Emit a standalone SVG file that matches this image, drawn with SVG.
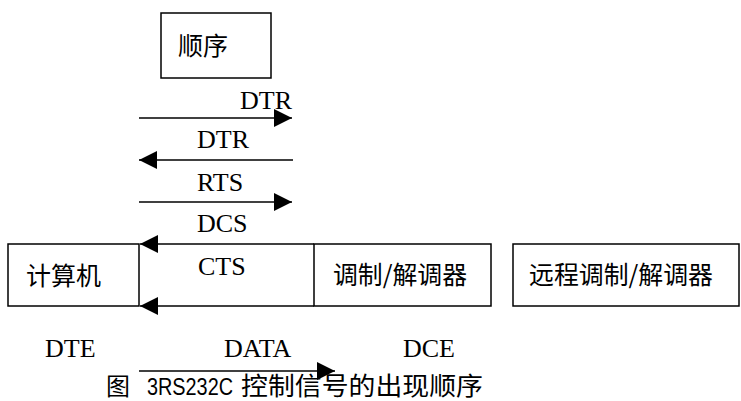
<svg xmlns="http://www.w3.org/2000/svg" width="741" height="401" viewBox="0 0 741 401">
<style>
.box{fill:#fff;stroke:#000;stroke-width:1.5}
.ln{fill:none;stroke:#000;stroke-width:1.5;marker-end:url(#ah)}
.cj{font-family:"Noto Sans CJK SC","Noto Sans",sans-serif;font-size:25px;fill:#000}
.lt{font-family:"Liberation Serif",serif;font-size:26px;fill:#000}
</style>
<defs>
<marker id="ah" markerUnits="userSpaceOnUse" viewBox="0 0 18 18" refX="18" refY="9" markerWidth="18" markerHeight="18" orient="auto">
<path d="M0,0 L18,9 L0,18 z" fill="#000"/>
</marker>
</defs>
<rect width="741" height="401" fill="#fff"/>
<g id="node-order">
<rect class="box" x="161" y="13" width="110" height="65"/>
<text class="cj" x="178" y="55">顺序</text>
</g>
<g id="node-computer">
<rect class="box" x="8" y="244" width="131" height="62"/>
<text class="cj" x="26" y="285">计算机</text>
</g>
<g id="node-modem">
<rect class="box" x="314" y="244" width="177" height="62"/>
<text class="cj" x="333" y="284" textLength="134" lengthAdjust="spacingAndGlyphs">调制/解调器</text>
</g>
<g id="node-remote">
<rect class="box" x="513" y="244" width="226" height="62"/>
<text class="cj" x="529" y="284" textLength="184" lengthAdjust="spacingAndGlyphs">远程调制/解调器</text>
</g>
<g id="connectors">
<line class="ln" x1="139" y1="118" x2="292" y2="118"/>
<line class="ln" x1="293" y1="160" x2="139" y2="160"/>
<line class="ln" x1="139" y1="202" x2="292" y2="202"/>
<line class="ln" x1="314" y1="244" x2="140" y2="244"/>
<line class="ln" x1="314" y1="306" x2="140" y2="306"/>
<line class="ln" x1="139" y1="371" x2="335" y2="371"/>
</g>
<g id="labels">
<text class="lt" x="240" y="109">DTR</text>
<text class="lt" x="197" y="148">DTR</text>
<text class="lt" x="197" y="191">RTS</text>
<text class="lt" x="197" y="232">DCS</text>
<text class="lt" x="198" y="275">CTS</text>
<text class="lt" x="45" y="357">DTE</text>
<text class="lt" x="224" y="357">DATA</text>
<text class="lt" x="403" y="357">DCE</text>
</g>
<g id="caption">
<text class="cj" x="106" y="395" style="font-size:24px">图</text>
<text x="147" y="395" style="font-family:'Liberation Sans',sans-serif;font-size:24px" textLength="86" lengthAdjust="spacingAndGlyphs">3RS232C</text>
<text class="cj" x="241" y="395" style="font-size:25px" textLength="242" lengthAdjust="spacingAndGlyphs">控制信号的出现顺序</text>
</g>
</svg>
